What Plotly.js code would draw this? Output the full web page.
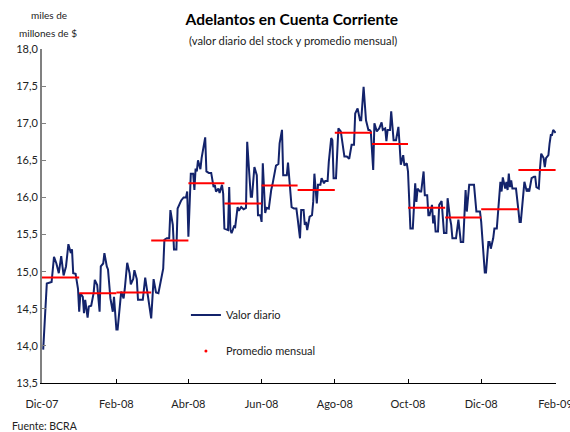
<!DOCTYPE html>
<html>
<head>
<meta charset="utf-8">
<script src="https://cdn.plot.ly/plotly-3.0.1.min.js"></script>
<style>html,body{margin:0;padding:0;background:#fff}#chart{width:570px;height:432px}</style>
</head>
<body>
<div id="chart"></div>
<script>
// Daily stock (miles de millones de $)
const dailyDates = [
"2007-12-02","2007-12-05","2007-12-09","2007-12-11","2007-12-13","2007-12-15","2007-12-17","2007-12-19","2007-12-21","2007-12-23","2007-12-25","2007-12-26","2007-12-27","2007-12-29","2007-12-31",
"2008-01-01","2008-01-02","2008-01-04","2008-01-05","2008-01-06","2008-01-08","2008-01-09","2008-01-11","2008-01-13","2008-01-14","2008-01-16","2008-01-18","2008-01-19","2008-01-21","2008-01-22","2008-01-24","2008-01-25","2008-01-27","2008-01-29","2008-01-30",
"2008-02-01","2008-02-02","2008-02-04","2008-02-05","2008-02-07","2008-02-08","2008-02-10","2008-02-12","2008-02-13","2008-02-15","2008-02-16","2008-02-18","2008-02-19","2008-02-23","2008-02-25","2008-02-27","2008-02-28",
"2008-03-01","2008-03-03","2008-03-05","2008-03-07","2008-03-10","2008-03-11","2008-03-12","2008-03-14","2008-03-16","2008-03-17","2008-03-19","2008-03-20","2008-03-22","2008-03-23","2008-03-26","2008-03-28","2008-03-30","2008-03-31",
"2008-04-01","2008-04-03","2008-04-05","2008-04-06","2008-04-07","2008-04-08","2008-04-09","2008-04-11","2008-04-12","2008-04-15","2008-04-16","2008-04-18","2008-04-20","2008-04-22","2008-04-23","2008-04-24","2008-04-26","2008-04-27","2008-04-29","2008-04-30",
"2008-05-01","2008-05-04","2008-05-05","2008-05-06","2008-05-07","2008-05-09","2008-05-10","2008-05-12","2008-05-13","2008-05-15","2008-05-17","2008-05-19","2008-05-20","2008-05-22","2008-05-23","2008-05-24","2008-05-26","2008-05-28","2008-05-29","2008-05-31",
"2008-06-01","2008-06-02","2008-06-04","2008-06-05","2008-06-07","2008-06-09","2008-06-10","2008-06-13","2008-06-15","2008-06-16","2008-06-18","2008-06-19","2008-06-22","2008-06-23","2008-06-24","2008-06-26","2008-06-28","2008-06-30",
"2008-07-01","2008-07-03","2008-07-04","2008-07-06","2008-07-07","2008-07-08","2008-07-09","2008-07-11","2008-07-13","2008-07-14","2008-07-15","2008-07-17","2008-07-18","2008-07-20","2008-07-21","2008-07-23","2008-07-24","2008-07-26","2008-07-27","2008-07-29","2008-07-30","2008-07-31",
"2008-08-02","2008-08-04","2008-08-06","2008-08-07","2008-08-09","2008-08-11","2008-08-13","2008-08-15","2008-08-17","2008-08-18","2008-08-20","2008-08-22","2008-08-23","2008-08-25","2008-08-27","2008-08-29","2008-08-30","2008-08-31",
"2008-09-02","2008-09-03","2008-09-05","2008-09-06","2008-09-07","2008-09-09","2008-09-10","2008-09-12","2008-09-13","2008-09-14","2008-09-16","2008-09-17","2008-09-19","2008-09-21","2008-09-23","2008-09-24","2008-09-25","2008-09-27","2008-09-28","2008-09-30",
"2008-10-01","2008-10-03","2008-10-05","2008-10-07","2008-10-08","2008-10-09","2008-10-11","2008-10-12","2008-10-14","2008-10-15","2008-10-17","2008-10-18","2008-10-19","2008-10-21","2008-10-22","2008-10-23","2008-10-24","2008-10-26","2008-10-27","2008-10-29","2008-10-31",
"2008-11-02","2008-11-03","2008-11-05","2008-11-06","2008-11-07","2008-11-10","2008-11-12","2008-11-13","2008-11-14","2008-11-16","2008-11-18","2008-11-19","2008-11-21","2008-11-24","2008-11-25","2008-11-27","2008-11-30",
"2008-12-01","2008-12-02","2008-12-04","2008-12-05","2008-12-07","2008-12-08","2008-12-09","2008-12-11","2008-12-12","2008-12-14","2008-12-16","2008-12-17","2008-12-18","2008-12-19","2008-12-21","2008-12-22","2008-12-23","2008-12-24","2008-12-25","2008-12-26","2008-12-27","2008-12-29","2008-12-30",
"2009-01-01","2009-01-02","2009-01-03","2009-01-05","2009-01-06","2009-01-08","2009-01-09","2009-01-10","2009-01-12","2009-01-14","2009-01-15","2009-01-16","2009-01-18","2009-01-19","2009-01-20","2009-01-22","2009-01-23","2009-01-24","2009-01-26","2009-01-27","2009-01-28","2009-01-29","2009-01-30","2009-01-31","2009-02-01"
];
const dailyValues = [
13.95,14.84,14.86,15.20,15.11,14.98,15.21,14.95,15.07,15.37,15.25,15.30,14.98,14.97,14.77,
14.46,14.71,14.66,14.44,14.62,14.38,14.53,14.54,14.71,14.89,14.82,14.46,15.07,15.11,15.25,15.07,15.03,14.64,14.46,14.66,
14.22,14.22,14.64,14.73,14.64,14.77,15.12,14.98,14.83,14.90,15.02,14.90,14.62,14.62,14.92,14.70,14.55,
14.37,14.90,14.72,14.71,14.93,15.04,15.43,15.45,15.45,15.83,15.63,15.30,15.30,15.85,15.96,16.00,16.00,16.08,
15.47,16.32,16.32,16.10,16.39,16.35,16.50,16.38,16.53,16.81,16.35,16.33,16.33,16.14,16.17,16.08,16.12,16.06,16.17,16.05,
15.58,15.56,16.14,15.56,15.52,15.61,15.60,15.87,15.82,15.87,15.84,15.86,16.75,16.32,16.01,16.01,16.41,16.30,15.76,15.76,
15.67,16.46,15.79,15.86,15.85,16.10,16.17,16.43,16.45,16.73,16.91,16.30,16.30,16.47,16.28,15.87,15.85,15.85,
15.72,15.45,15.83,15.83,15.63,15.67,15.56,15.74,15.76,15.94,16.32,15.92,16.17,16.17,16.26,16.19,16.22,16.22,16.48,16.80,16.77,16.26,
16.26,16.93,16.89,16.75,16.55,16.55,16.52,16.71,16.71,17.13,17.20,17.04,17.04,17.49,17.04,16.91,16.91,16.89,
16.37,17.00,16.89,16.91,16.93,17.01,16.91,16.93,16.76,16.91,16.91,17.16,16.77,16.77,16.95,16.71,16.44,16.57,16.43,16.46,
16.35,15.58,15.58,16.19,15.94,16.12,16.08,16.08,16.35,16.03,16.03,15.76,15.76,15.90,15.65,15.76,15.54,15.54,15.90,15.95,15.52,
15.52,15.99,15.72,15.63,15.45,15.45,15.70,15.56,15.40,15.40,16.10,15.81,16.17,16.17,16.17,15.81,15.81,
15.67,15.40,14.99,14.99,15.40,15.40,15.31,15.45,15.58,15.58,15.94,16.21,16.08,16.27,16.12,16.21,16.10,16.32,16.14,16.23,16.12,16.12,16.12,
15.83,15.67,15.67,16.03,16.21,16.08,16.12,16.08,16.26,16.28,16.28,16.14,16.12,16.39,16.59,16.53,16.41,16.53,16.57,16.73,16.84,16.84,16.91,16.89,16.87
];

// Monthly averages
const monthStarts = ["2007-12-01","2008-01-01","2008-02-01","2008-03-01","2008-04-01","2008-05-01","2008-06-01","2008-07-01","2008-08-01","2008-09-01","2008-10-01","2008-11-01","2008-12-01","2009-01-01"];
const monthEnds   = ["2008-01-01","2008-02-01","2008-03-01","2008-04-01","2008-05-01","2008-06-01","2008-07-01","2008-08-01","2008-09-01","2008-10-01","2008-11-01","2008-12-01","2009-01-01","2009-02-01"];
const monthlyAvg  = [14.92,14.71,14.72,15.42,16.19,15.92,16.16,16.10,16.87,16.72,15.86,15.73,15.84,16.37];

// Axis ticks
const tickDates  = ["2007-12-01","2008-02-01","2008-04-01","2008-06-01","2008-08-01","2008-10-01","2008-12-01","2009-02-01"];
const tickLabels = ["Dic-07","Feb-08","Abr-08","Jun-08","Ago-08","Oct-08","Dic-08","Feb-09"];

const segX = [], segY = [];
monthlyAvg.forEach((v, i) => {
  segX.push(monthStarts[i], monthEnds[i], null);
  segY.push(v, v, null);
});

const FONT = "Lato, 'Open Sans', sans-serif";

const traces = [
  {
    x: dailyDates, y: dailyValues, type: "scatter", mode: "lines",
    name: "Valor diario", legendgroup: "a",
    line: {color: "#13236b", width: 2}
  },
  {
    x: segX, y: segY, type: "scatter", mode: "lines",
    name: "Promedio mensual", legendgroup: "b", showlegend: false,
    line: {color: "#ff0000", width: 2}
  },
  {
    x: [null], y: [null], type: "scatter", mode: "markers",
    name: "Promedio mensual", legendgroup: "b",
    marker: {color: "#ff0000", size: 3}
  }
];

const layout = {
  width: 570, height: 432,
  margin: {l: 42, r: 14, t: 49, b: 49},
  paper_bgcolor: "#fff", plot_bgcolor: "#fff",
  separators: ",.",
  font: {family: FONT, size: 11, color: "#222"},
  showlegend: true,
  legend: {
    x: 0.28, xanchor: "left", y: 0.247, yanchor: "top",
    bgcolor: "rgba(0,0,0,0)", borderwidth: 0,
    tracegroupgap: 17, itemwidth: 30,
    font: {family: FONT, size: 11, color: "#222"}
  },
  title: {
    text: "<b>Adelantos en Cuenta Corriente</b>",
    x: 0.512, xanchor: "center", y: 0.955, yanchor: "middle",
    font: {family: FONT, size: 15.5, color: "#000"}
  },
  xaxis: {
    type: "date",
    range: ["2007-12-01", "2009-02-01 08:00"],
    tickmode: "array", tickvals: tickDates, ticktext: tickLabels,
    ticks: "inside", ticklen: 4, tickcolor: "#000",
    showline: true, linecolor: "#000", linewidth: 1,
    showgrid: false, zeroline: false,
    ticklabelstandoff: 11,
    ticklabeloverflow: "allow",
    tickfont: {family: FONT, size: 11, color: "#222"}
  },
  yaxis: {
    range: [13.5, 18], dtick: 0.5, tick0: 13.5,
    tickformat: ".1f",
    ticks: "inside", ticklen: 4, tickcolor: "#808080",
    showline: true, linecolor: "#808080", linewidth: 2,
    showgrid: false, zeroline: false,
    tickfont: {family: FONT, size: 11, color: "#222"}
  },
  annotations: [
    {text: "(valor diario del stock y promedio mensual)", xref: "paper", yref: "paper",
     x: 0.488, y: 1.024, xanchor: "center", yanchor: "middle", showarrow: false,
     font: {family: FONT, size: 11.2, color: "#222"}},
    {text: "miles de", xref: "paper", yref: "paper", x: 0.014, y: 1.102,
     xanchor: "center", yanchor: "middle", showarrow: false,
     font: {family: FONT, size: 10, color: "#222"}},
    {text: "millones de $", xref: "paper", yref: "paper", x: 0.012, y: 1.048,
     xanchor: "center", yanchor: "middle", showarrow: false,
     font: {family: FONT, size: 10, color: "#222"}},
    {text: "Fuente: BCRA", xref: "paper", yref: "paper", x: -0.063, y: -0.128,
     xanchor: "left", yanchor: "middle", showarrow: false,
     font: {family: FONT, size: 10.5, color: "#222"}}
  ]
};

Plotly.newPlot("chart", traces, layout, {displayModeBar: false, staticPlot: true});
</script>
</body>
</html>
